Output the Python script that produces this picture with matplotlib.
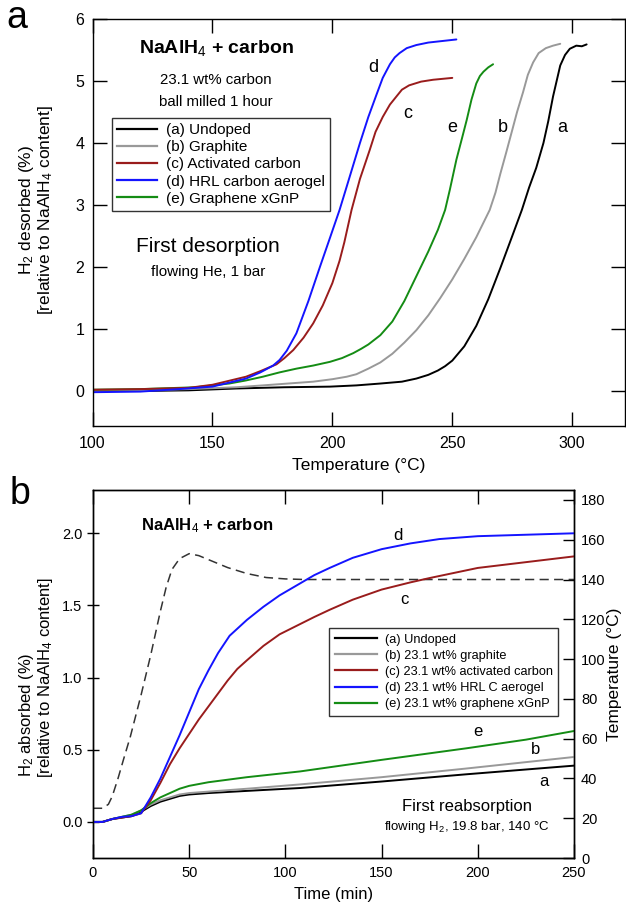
import numpy as np
import matplotlib
matplotlib.use("Agg")
import matplotlib.pyplot as plt
from matplotlib.lines import Line2D

plt.rcParams['font.family'] = ['Liberation Sans', 'DejaVu Sans']
plt.rcParams['mathtext.fontset'] = 'custom'
plt.rcParams['mathtext.rm'] = 'Liberation Sans'
plt.rcParams['mathtext.it'] = 'Liberation Sans:italic'
plt.rcParams['mathtext.bf'] = 'Liberation Sans:bold'

# ---------------- Panel a: first desorption ----------------
T_a = [100, 120, 140, 160, 180, 199, 210, 220, 229, 235, 240, 244, 247, 250, 255, 260, 265, 270, 275, 279, 282, 285, 288, 290, 292, 293.5, 295, 297, 299, 301.7, 304, 306]
H_a = [0.0, 0.0, 0.01, 0.04, 0.06, 0.07, 0.09, 0.12, 0.15, 0.2, 0.26, 0.33, 0.4, 0.49, 0.72, 1.05, 1.48, 1.98, 2.5, 2.92, 3.28, 3.6, 4.0, 4.35, 4.75, 5.0, 5.25, 5.42, 5.52, 5.57, 5.56, 5.59]

T_b = [100, 120, 140, 160, 171, 185, 192, 200, 206, 210, 215, 220, 225, 230, 235, 240, 245, 250, 255, 260, 265.6, 268, 270, 272.5, 275, 277, 279.5, 281.5, 283.7, 286, 289, 292, 295]
H_b = [0.0, 0.01, 0.03, 0.06, 0.09, 0.13, 0.15, 0.19, 0.23, 0.27, 0.36, 0.46, 0.6, 0.78, 0.98, 1.22, 1.5, 1.8, 2.13, 2.48, 2.92, 3.2, 3.5, 3.85, 4.21, 4.5, 4.82, 5.1, 5.3, 5.45, 5.53, 5.57, 5.6]

T_c = [100, 120, 140, 150, 164, 170, 176.7, 180, 183.7, 188, 192, 196, 200, 203, 205, 208, 211.5, 215.6, 218, 221, 224, 226.7, 229, 232, 237, 242, 250]
H_c = [0.02, 0.03, 0.05, 0.10, 0.23, 0.32, 0.43, 0.53, 0.66, 0.86, 1.09, 1.38, 1.74, 2.1, 2.4, 2.92, 3.42, 3.89, 4.18, 4.42, 4.62, 4.75, 4.86, 4.93, 4.99, 5.02, 5.05]

T_d = [100, 120, 136, 150, 164, 170, 175.3, 178, 181, 185, 190, 194.8, 199, 203, 206, 211.5, 215, 218.4, 221, 224, 226, 228, 231, 235, 240, 251.7]
H_d = [-0.02, -0.01, 0.03, 0.07, 0.20, 0.30, 0.41, 0.50, 0.65, 0.93, 1.45, 2.0, 2.47, 2.92, 3.30, 4.0, 4.42, 4.78, 5.05, 5.27, 5.38, 5.45, 5.53, 5.58, 5.62, 5.67]

T_e = [100, 120, 143, 157, 164, 171, 178, 185, 192, 199, 204, 208.7, 212, 215, 220, 225, 230, 235, 240, 244, 247, 249, 251.7, 254, 256, 258, 260, 261.5, 263, 265, 267]
H_e = [0.02, 0.03, 0.06, 0.12, 0.17, 0.23, 0.30, 0.36, 0.41, 0.47, 0.53, 0.61, 0.68, 0.75, 0.9, 1.12, 1.45, 1.85, 2.25, 2.6, 2.92, 3.25, 3.73, 4.07, 4.37, 4.7, 4.96, 5.08, 5.15, 5.22, 5.27]

legend_a = ["(a) Undoped", "(b) Graphite", "(c) Activated carbon", "(d) HRL carbon aerogel", "(e) Graphene xGnP"]

# ---------------- Panel b: first reabsorption ----------------
t_a = [0, 5, 10, 20, 25, 30, 35, 40, 45, 50, 60, 80, 107.7, 150, 194, 250]
A_a = [0.0, 0.0, 0.02, 0.04, 0.07, 0.11, 0.14, 0.16, 0.18, 0.19, 0.20, 0.215, 0.235, 0.28, 0.33, 0.39]

t_b = [0, 5, 10, 20, 25, 30, 35, 40, 45, 50, 60, 80, 107.7, 150, 194, 250]
A_b = [0.0, 0.0, 0.02, 0.05, 0.08, 0.12, 0.15, 0.17, 0.19, 0.20, 0.21, 0.23, 0.26, 0.31, 0.37, 0.45]

t_c = [0, 5, 10, 20, 25, 30, 35, 40, 45, 50, 55, 60, 65, 70, 75, 80, 88.6, 97, 106, 115, 123, 135, 150, 165, 175, 200, 225, 250]
A_c = [0.0, 0.0, 0.02, 0.04, 0.06, 0.15, 0.27, 0.40, 0.51, 0.61, 0.71, 0.80, 0.89, 0.98, 1.06, 1.12, 1.22, 1.30, 1.36, 1.42, 1.47, 1.54, 1.61, 1.66, 1.69, 1.76, 1.80, 1.84]

t_d = [0, 5, 10, 15, 20, 25, 30, 35, 40, 45, 50, 55, 60, 65, 71, 80, 88.5, 97, 106, 115, 123, 135, 150, 165, 180, 200, 225, 250]
A_d = [0.0, 0.0, 0.02, 0.035, 0.04, 0.06, 0.17, 0.30, 0.45, 0.60, 0.76, 0.92, 1.05, 1.17, 1.29, 1.40, 1.49, 1.57, 1.64, 1.71, 1.76, 1.83, 1.89, 1.93, 1.96, 1.98, 1.99, 2.0]

t_e = [0, 5, 10, 20, 25, 30, 35, 40, 45, 50, 60, 80, 107.7, 150, 194, 225, 250]
A_e = [0.0, 0.0, 0.02, 0.05, 0.08, 0.13, 0.17, 0.20, 0.23, 0.25, 0.275, 0.31, 0.35, 0.43, 0.51, 0.57, 0.63]

t_temp = [0, 5, 8, 10, 13, 16, 19.4, 25, 30, 35, 38, 41, 45, 50, 55, 60, 70, 80, 90, 100, 110, 250]
temp = [25, 25, 27, 31, 40, 50, 61, 82, 102, 124, 136, 145, 150.5, 153, 152, 150, 146, 143, 141, 140.3, 140, 140]

legend_b = ["(a) Undoped", "(b) 23.1 wt% graphite", "(c) 23.1 wt% activated carbon",
            "(d) 23.1 wt% HRL C aerogel", "(e) 23.1 wt% graphene xGnP"]

colors = ['#000000', '#999999', '#991c1c', '#1414ff', '#148c14']

W, H = 626, 907
fig = plt.figure(figsize=(W / 100, H / 100), dpi=100)

def fx(px):
    return px / W

def fy(py):
    return 1 - py / H

# ---- top axes ----
ax1 = fig.add_axes([fx(92.5), fy(426), (625 - 92.5) / W, (426 - 19) / H])
series_a = [(T_a, H_a), (T_b, H_b), (T_c, H_c), (T_d, H_d), (T_e, H_e)]
order = [0, 1, 4, 2, 3]
for i in order:
    x, y = series_a[i]
    ax1.plot(x, y, color=colors[i], lw=1.4, solid_capstyle='round', solid_joinstyle='round')
ax1.set_xlim(100, 322)
ax1.set_ylim(-0.565, 6.0)
ax1.set_xticks([100, 150, 200, 250, 300])
ax1.set_yticks([0, 1, 2, 3, 4, 5, 6])
ax1.tick_params(direction='in', length=10, width=1.0, labelsize=11.5, top=True, right=True, pad=7)
ax1.tick_params(axis='y', pad=6)
for s in ax1.spines.values():
    s.set_linewidth(1.0)
ax1.set_xlabel("Temperature (°C)", fontsize=12.5, labelpad=5)

handles = [Line2D([0], [0], color=c, lw=1.6) for c in colors]
leg = ax1.legend(handles, legend_a, loc='upper left', bbox_to_anchor=((112 - 92.5) / 532.5, 1 - (118 - 19) / 407),
                 bbox_transform=ax1.transAxes, fontsize=11, frameon=True, fancybox=False,
                 edgecolor='black', handlelength=2.6, handletextpad=0.6, labelspacing=0.2,
                 borderpad=0.35, borderaxespad=0)
leg.get_frame().set_linewidth(1.0)

fig.text(fx(216), fy(48), "NaAlH$_4$ + carbon", fontsize=14, fontweight='bold', ha='center', va='center')
fig.text(fx(216), fy(80), "23.1 wt% carbon", fontsize=10.8, ha='center', va='center')
fig.text(fx(216), fy(102), "ball milled 1 hour", fontsize=10.8, ha='center', va='center')
fig.text(fx(208), fy(247), "First desorption", fontsize=15, ha='center', va='center')
fig.text(fx(208), fy(272), "flowing He, 1 bar", fontsize=11, ha='center', va='center')

for lab, (px, py) in zip(['d', 'c', 'e', 'b', 'a'],
                         [(373, 67), (408, 113), (452, 128), (503, 128), (562, 128)]):
    fig.text(fx(px), fy(py), lab, fontsize=13, ha='center', va='center')

fig.text(fx(27), fy(210), "H$_2$ desorbed (%)", fontsize=12.5, rotation=90, ha='center', va='center')
fig.text(fx(46), fy(210), "[relative to NaAlH$_4$ content]", fontsize=12.5, rotation=90, ha='center', va='center')
fig.text(fx(17), fy(18), "a", fontsize=27, ha='center', va='center')

# ---- bottom axes ----
ax2 = fig.add_axes([fx(93), fy(858), (574 - 93) / W, (858 - 490) / H])
ax3 = ax2.twinx()
ax3.plot(t_temp, temp, color='#333333', lw=1.1, ls=(0, (6, 3.5)))
ax3.set_ylim(0, 185)
ax3.set_yticks(range(0, 181, 20))
ax3.tick_params(direction='in', length=8, width=1.0, labelsize=10.5, pad=5)

series_b = [(t_a, A_a), (t_b, A_b), (t_c, A_c), (t_d, A_d), (t_e, A_e)]
for i in order:
    x, y = series_b[i]
    ax2.plot(x, y, color=colors[i], lw=1.4, solid_joinstyle='round')
ax2.set_zorder(ax3.get_zorder() + 1)
ax2.patch.set_visible(False)
ax2.set_xlim(0, 250)
ax2.set_ylim(-0.25, 2.3)
ax2.set_xticks([0, 50, 100, 150, 200, 250])
ax2.set_yticks([0.0, 0.5, 1.0, 1.5, 2.0])
ax2.set_yticklabels(["0.0", "0.5", "1.0", "1.5", "2.0"])
ax2.tick_params(axis='x', direction='in', length=10, width=1.0, labelsize=10.5, top=True, pad=6)
ax2.tick_params(axis='y', direction='inout', length=9, width=1.0, labelsize=10.5, pad=3)
for a in (ax2, ax3):
    for s in a.spines.values():
        s.set_linewidth(1.0)
ax2.set_xlabel("Time (min)", fontsize=12, labelpad=5)

leg2 = ax2.legend(handles, legend_b, loc='upper left',
                  bbox_to_anchor=((329 - 93) / 481, 1 - (628 - 490) / 368),
                  bbox_transform=ax2.transAxes, fontsize=9.2, frameon=True, fancybox=False,
                  edgecolor='black', handlelength=3.3, handletextpad=0.6, labelspacing=0.32,
                  borderpad=0.45, borderaxespad=0)
leg2.get_frame().set_linewidth(1.0)

fig.text(fx(207), fy(526), "NaAlH$_4$ + carbon", fontsize=12, fontweight='bold', ha='center', va='center')
fig.text(fx(467), fy(806), "First reabsorption", fontsize=12, ha='center', va='center')
fig.text(fx(467), fy(827), "flowing H$_2$, 19.8 bar, 140 °C", fontsize=9.5, ha='center', va='center')

for lab, (px, py) in zip(['d', 'c', 'e', 'b', 'a'],
                         [(398, 536), (404, 600), (478, 732), (536, 750), (544, 781)]):
    fig.text(fx(px), fy(py), lab, fontsize=12, ha='center', va='center')

fig.text(fx(615), fy(674), "Temperature (°C)", fontsize=12.5, rotation=90, ha='center', va='center')
fig.text(fx(27), fy(715), "H$_2$ absorbed (%)", fontsize=12, rotation=90, ha='center', va='center')
fig.text(fx(46), fy(678), "[relative to NaAlH$_4$ content]", fontsize=12, rotation=90, ha='center', va='center')
fig.text(fx(20), fy(494), "b", fontsize=27, ha='center', va='center')

fig.savefig("out.png", dpi=100)
